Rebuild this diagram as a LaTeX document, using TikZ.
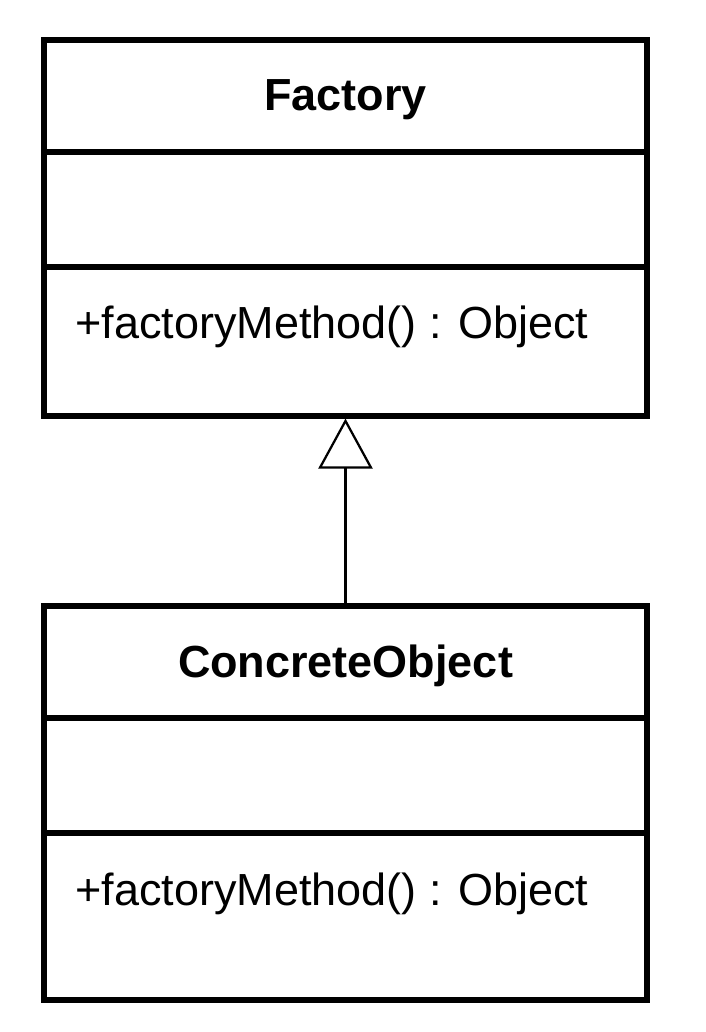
\documentclass[tikz,border=0pt]{standalone}
\usepackage{fontspec}
\setmainfont{Liberation Sans}
\usetikzlibrary{arrows.meta}

\tikzset{
  umlbox/.style = {draw, line width = 3.6pt, minimum width = 15.075cm, inner sep = 0pt, outer sep = 0pt, anchor = north west},
  umltext/.style = {font = \fontsize{32}{38}\selectfont, inner sep = 0pt},
}

\begin{document}
\begin{tikzpicture}
        \useasboundingbox (0,0) rectangle (17.65,-25.8);
        % Factory
        \node[umlbox, minimum height = 2.8cm] (factory name) at (1.1,-1) {};
        \node[umlbox, minimum height = 2.875cm] (factory attrs) at (1.1,-3.8) {};
        \node[umlbox, minimum height = 3.725cm] (factory methods) at (1.1,-6.675) {};
        \node[umltext, font = \fontsize{32}{38}\selectfont\bfseries, yshift = -0.1cm] (factory title) at (factory name.center) {Factory};
        \node[umltext, anchor = base west] (factory op) at (1.875,-8.45) {+factoryMethod() : Object};
        % ConcreteObject
        \node[umlbox, minimum height = 2.8cm] (concrete name) at (1.1,-15.15) {};
        \node[umlbox, minimum height = 2.875cm] (concrete attrs) at (1.1,-17.95) {};
        \node[umlbox, minimum height = 4.175cm] (concrete methods) at (1.1,-20.825) {};
        \node[umltext, font = \fontsize{32}{38}\selectfont\bfseries, yshift = -0.1cm] (concrete title) at (concrete name.center) {ConcreteObject};
        \node[umltext, anchor = base west] (concrete op) at (1.875,-22.625) {+factoryMethod() : Object};
        % generalization
        \draw[-{Triangle[open, length = 1.25cm, width = 1.35cm]}, line width = 1.6pt, shorten > = 1.8pt] (concrete name.north) -- (factory methods.south);
\end{tikzpicture}
\end{document}
